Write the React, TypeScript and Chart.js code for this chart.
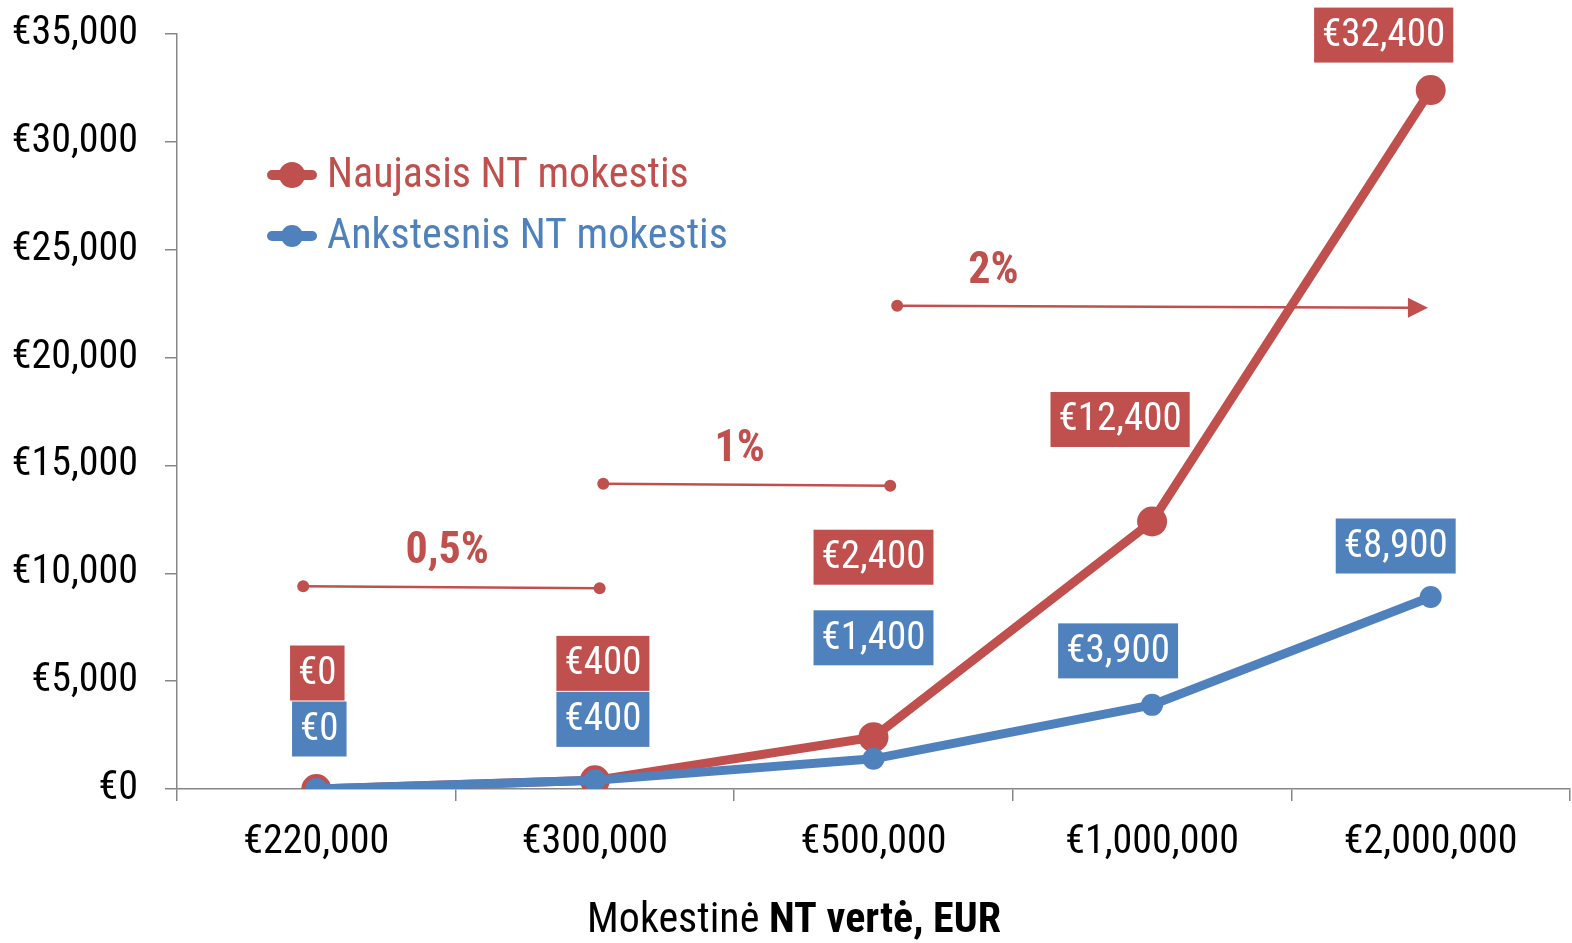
import React, { useEffect, useRef } from 'react';
import { Chart, registerables } from 'chart.js';

Chart.register(...registerables);

// ---- data ----
const categories = ['€220,000', '€300,000', '€500,000', '€1,000,000', '€2,000,000'];
const newTax = [0, 400, 2400, 12400, 32400];
const oldTax = [0, 400, 1400, 3900, 8900];
const seriesNames = ['Naujasis NT mokestis', 'Ankstesnis NT mokestis'];
const yMax = 35000;
const yStep = 5000;
const axisTitleRegular = 'Mokestinė ';
const axisTitleBold = 'NT vertė, EUR';

// rate bands (category-index span and value level)
const rateLabels = ['0,5%', '1%', '2%'];
const rateFrom = [-0.047, 1.03, 2.085];
const rateTo = [1.017, 2.06, 3.99];
const rateLevel = [9400, 14150, 22400];
const rateLabelAt = [0.47, 1.52, 2.43];
const rateArrow = [false, false, true];

// ---- styles ----
const RED = '#C0504D';
const BLUE = '#4F81BD';
const AXIS = '#878787';
const FONT = '"Liberation Sans Narrow", "Arial Narrow", "Roboto Condensed", "DejaVu Sans Condensed", sans-serif';
const newLabelOffsets = [[1, -116], [8, -117], [0, -180], [-32, -102], [-47, -55]];
const oldLabelOffsets = [[3, -60], [8, -61], [0, -121], [-34, -54], [-35, -51]];

const fmt = (v: number) => '€' + v.toLocaleString('en-US');

const overlayPlugin = {
  id: 'overlay',
  beforeDatasetsDraw(chart: any) {
    const ctx = chart.ctx;
    const x = chart.scales.x;
    const y = chart.scales.y;
    const step = x.getPixelForValue(1) - x.getPixelForValue(0);
    const px = (i: number) => x.getPixelForValue(0) + i * step;
    ctx.save();
    for (let k = 0; k < rateLabels.length; k++) {
      const x0 = px(rateFrom[k]);
      const x1 = px(rateTo[k]);
      const yy = y.getPixelForValue(rateLevel[k]);
      ctx.strokeStyle = RED;
      ctx.fillStyle = RED;
      ctx.lineWidth = 2.5;
      ctx.beginPath();
      ctx.moveTo(x0, yy);
      ctx.lineTo(rateArrow[k] ? x1 - 18 : x1, yy + 2);
      ctx.stroke();
      ctx.beginPath();
      ctx.arc(x0, yy, 6, 0, Math.PI * 2);
      ctx.fill();
      if (rateArrow[k]) {
        ctx.beginPath();
        ctx.moveTo(x1, yy + 2);
        ctx.lineTo(x1 - 20, yy + 2 - 10);
        ctx.lineTo(x1 - 20, yy + 2 + 10);
        ctx.closePath();
        ctx.fill();
      } else {
        ctx.beginPath();
        ctx.arc(x1, yy + 2, 6, 0, Math.PI * 2);
        ctx.fill();
      }
      ctx.font = `bold 44px ${FONT}`;
      ctx.textAlign = 'center';
      ctx.textBaseline = 'middle';
      ctx.fillText(rateLabels[k], px(rateLabelAt[k]), yy - 34);
    }
    ctx.restore();
  },
  afterDatasetsDraw(chart: any) {
    const ctx = chart.ctx;
    ctx.save();
    const drawLabels = (dsIndex: number, values: number[], offsets: number[][], color: string) => {
      const meta = chart.getDatasetMeta(dsIndex);
      ctx.font = `39px ${FONT}`;
      ctx.textAlign = 'center';
      ctx.textBaseline = 'middle';
      meta.data.forEach((pt: any, i: number) => {
        const text = fmt(values[i]);
        const w = ctx.measureText(text).width + 16;
        const h = 55;
        const cx = pt.x + offsets[i][0];
        const cy = pt.y + offsets[i][1];
        ctx.fillStyle = color;
        ctx.fillRect(cx - w / 2, cy - h / 2, w, h);
        ctx.fillStyle = '#ffffff';
        ctx.fillText(text, cx, cy + 1);
      });
    };
    drawLabels(0, newTax, newLabelOffsets, RED);
    drawLabels(1, oldTax, oldLabelOffsets, BLUE);

    // legend
    const items = [
      { name: seriesNames[0], color: RED, y: 175, r: 13 },
      { name: seriesNames[1], color: BLUE, y: 236, r: 11 },
    ];
    items.forEach((it) => {
      ctx.strokeStyle = it.color;
      ctx.fillStyle = it.color;
      ctx.lineWidth = 10;
      ctx.lineCap = 'round';
      ctx.beginPath();
      ctx.moveTo(272, it.y);
      ctx.lineTo(312, it.y);
      ctx.stroke();
      ctx.beginPath();
      ctx.arc(292, it.y, it.r, 0, Math.PI * 2);
      ctx.fill();
      ctx.font = `42px ${FONT}`;
      ctx.textAlign = 'left';
      ctx.textBaseline = 'middle';
      ctx.fillText(it.name, 327, it.y + 1);
    });
    ctx.restore();
  },
  afterDraw(chart: any) {
    const ctx = chart.ctx;
    const area = chart.chartArea;
    ctx.save();
    ctx.fillStyle = '#000000';
    ctx.textBaseline = 'middle';
    ctx.textAlign = 'left';
    ctx.font = `42px ${FONT}`;
    const w1 = ctx.measureText(axisTitleRegular).width;
    ctx.font = `bold 42px ${FONT}`;
    const w2 = ctx.measureText(axisTitleBold).width;
    const cx = 794;
    const start = cx - (w1 + w2) / 2;
    const ty = area.bottom + 132;
    ctx.font = `42px ${FONT}`;
    ctx.fillText(axisTitleRegular, start, ty);
    ctx.font = `bold 42px ${FONT}`;
    ctx.fillText(axisTitleBold, start + w1, ty);
    ctx.restore();
  },
};

export default function App() {
  const ref = useRef<HTMLCanvasElement | null>(null);
  useEffect(() => {
    document.body.style.margin = '0';
    const canvas = ref.current!;
    const chart = new Chart(canvas, {
      type: 'line',
      data: {
        labels: categories,
        datasets: [
          {
            label: seriesNames[0],
            data: newTax,
            borderColor: RED,
            backgroundColor: RED,
            borderWidth: 9,
            pointRadius: 15,
            pointBackgroundColor: RED,
            pointBorderWidth: 0,
            order: 1,
          },
          {
            label: seriesNames[1],
            data: oldTax,
            borderColor: BLUE,
            backgroundColor: BLUE,
            borderWidth: 9,
            pointRadius: 11,
            pointBackgroundColor: BLUE,
            pointBorderWidth: 0,
            order: 0,
          },
        ],
      },
      options: {
        responsive: false,
        animation: false,
        devicePixelRatio: 1,
        layout: { autoPadding: false, padding: { top: 34, right: 2, left: 0, bottom: 0 } },
        plugins: {
          legend: { display: false },
          tooltip: { enabled: false },
        },
        scales: {
          x: {
            offset: true,
            grid: {
              display: true,
              offset: true,
              drawOnChartArea: false,
              drawTicks: true,
              tickLength: 12,
              color: AXIS,
              lineWidth: 1.5,
            },
            border: { display: true, color: AXIS, width: 1.5 },
            ticks: {
              color: '#000000',
              font: { family: FONT, size: 40 },
              padding: 18,
              maxRotation: 0,
              autoSkip: false,
            },
            afterFit: (s: any) => {
              s.height = 154;
              s.paddingLeft = 0;
              s.paddingRight = 0;
            },
          },
          y: {
            min: 0,
            max: yMax,
            grid: {
              display: true,
              drawOnChartArea: false,
              drawTicks: true,
              tickLength: 12,
              color: AXIS,
              lineWidth: 1.5,
            },
            border: { display: true, color: AXIS, width: 1.5 },
            ticks: {
              stepSize: yStep,
              color: '#000000',
              font: { family: FONT, size: 40 },
              padding: 27,
              callback: (v: any) => fmt(Number(v)),
            },
            afterFit: (s: any) => {
              s.width = 177;
              s.paddingTop = 0;
              s.paddingBottom = 0;
            },
          },
        },
      },
      plugins: [overlayPlugin],
    });
    return () => chart.destroy();
  }, []);
  return (
    <div style={{ width: 1572, height: 943, background: '#ffffff' }}>
      <canvas ref={ref} width={1572} height={943} style={{ display: 'block' }} />
    </div>
  );
}
